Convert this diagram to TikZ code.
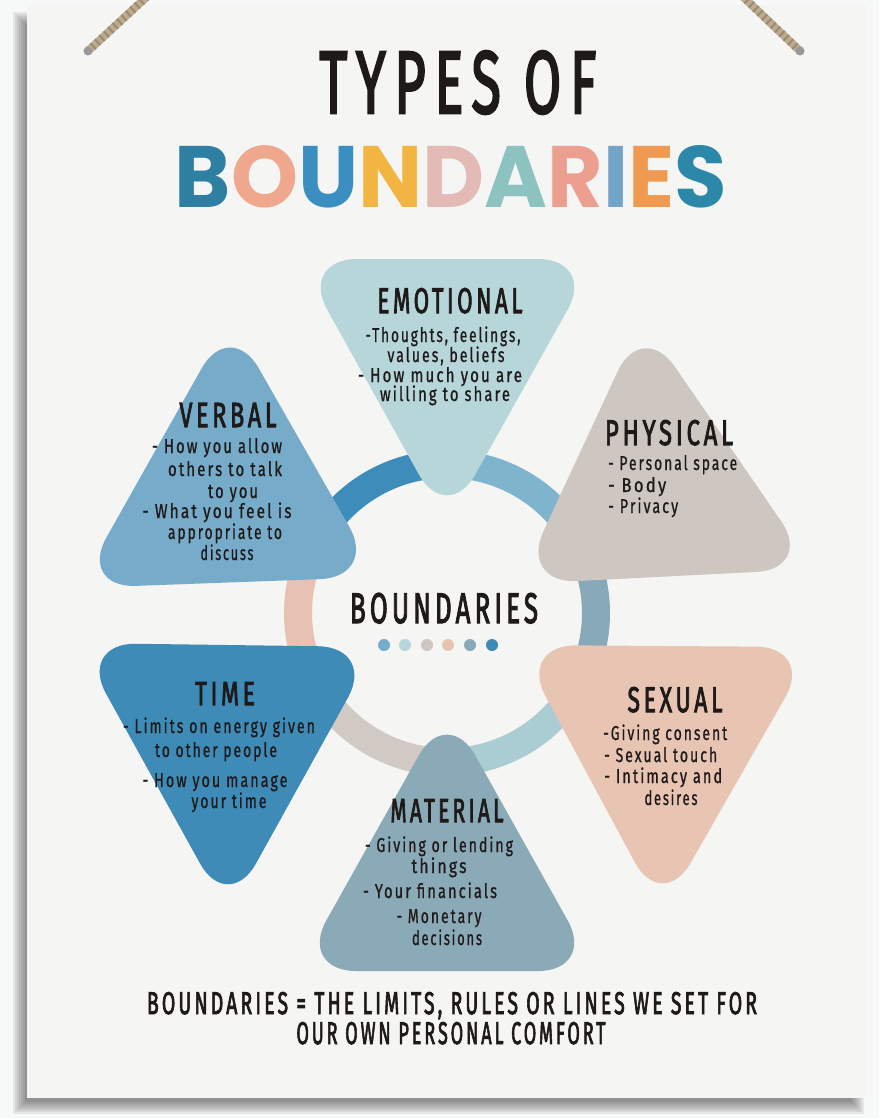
\documentclass[tikz,border=0pt]{standalone}
\usepackage{fontspec}
\usepackage{graphicx}
\newfontfamily\hand[LetterSpace=14,FakeBold=1]{Fira Sans}
\newfontfamily\handh[LetterSpace=16,FakeBold=3]{Fira Sans}
\newfontfamily\pop{Poppins}
\definecolor{bgc}{HTML}{F7F8F8}
\definecolor{board}{HTML}{F5F5F3}
\definecolor{ink}{HTML}{1F1A1A}
\definecolor{emo}{HTML}{B6D6D9}
\definecolor{phy}{HTML}{CEC7C1}
\definecolor{sex}{HTML}{E8C4B3}
\definecolor{mat}{HTML}{8AAAB8}
\definecolor{tim}{HTML}{3E8BB8}
\definecolor{ver}{HTML}{76ABC9}
\definecolor{rA}{HTML}{3D8CBA}
\definecolor{rB}{HTML}{7FB4CD}
\definecolor{rC}{HTML}{88A9BA}
\definecolor{rD}{HTML}{A9CDD3}
\definecolor{rE}{HTML}{D1C9C4}
\definecolor{rF}{HTML}{E7C2B3}
\definecolor{tB}{HTML}{2E7FA2}
\definecolor{tO}{HTML}{EFA78E}
\definecolor{tU}{HTML}{3A8EC0}
\definecolor{tN}{HTML}{F2B541}
\definecolor{tD}{HTML}{E4BAB7}
\definecolor{tA}{HTML}{8CC3C1}
\definecolor{tR}{HTML}{EC9F8E}
\definecolor{tI}{HTML}{72A3C8}
\definecolor{tE}{HTML}{EF9A50}
\definecolor{tS}{HTML}{2B88A8}
\definecolor{rope}{HTML}{BCAB8F}
\definecolor{ropedk}{HTML}{9A8A70}
\newcommand\fitw[2]{\resizebox{#1pt}{\height}{#2}}
\newcommand\fitwh[3]{\resizebox{#1pt}{#2pt}{#3}}
\begin{document}
\begin{tikzpicture}[x=1pt,y=-1pt,
  bt/.style={anchor=base, inner sep=0pt, text=ink, font=\hand\fontsize{20}{20}\selectfont},
  btl/.style={bt, anchor=base west},
  hd/.style={anchor=base, inner sep=0pt, text=ink, font=\handh},
  tri/.style={rounded corners=58pt},
  ringseg/.style={line width=28pt},
  ropeline/.style={line width=8pt, color=rope, line cap=round},
  ropetwist/.style={line width=8pt, color=ropedk, dash pattern=on 2pt off 4pt},
  dot/.style={circle, inner sep=0pt, minimum size=12pt}]
\useasboundingbox (0,0) rectangle (879,1118);
\clip (0,0) rectangle (879,1118);
% background, shadow, board
\fill[bgc] (0,0) rectangle (879,1118);
\foreach \k in {0,...,6} \fill[black, opacity=0.07] (13+\k*2, 12+\k*2) rectangle (864-\k*2, 1114-\k*2);
\fill[board] (27,5) rectangle (867,1098);
% ropes
\draw[ropeline] (88,51) -- (152,-8);
\draw[ropetwist] (88,51) -- (152,-8);
\fill[gray!80] (88,51) circle (4.5);
\draw[ropeline] (800,51) -- (738,-8);
\draw[ropetwist] (800,51) -- (738,-8);
\fill[gray!80] (800,51) circle (4.5);
% titles
\node[hd] (title1) at (458,113) {\fitwh{277}{62}{TYPES OF}};
\node[anchor=base, inner sep=0pt] (title2) at (451,207) {\fitwh{552}{62}{\pop\bfseries\textcolor{tB}{B}\textcolor{tO}{O}\textcolor{tU}{U}\textcolor{tN}{N}\textcolor{tD}{D}\textcolor{tA}{A}\textcolor{tR}{R}\textcolor{tI}{I}\textcolor{tE}{E}\textcolor{tS}{S}}};
% ring
\coordinate (ctr) at (447,613);
\draw[ringseg, rA] (ctr) ++(210:149) arc[start angle=210, end angle=270, radius=149];
\draw[ringseg, rB] (ctr) ++(270:149) arc[start angle=270, end angle=330, radius=149];
\draw[ringseg, rC] (ctr) ++(-30:149) arc[start angle=-30, end angle=30, radius=149];
\draw[ringseg, rD] (ctr) ++(30:149) arc[start angle=30, end angle=90, radius=149];
\draw[ringseg, rE] (ctr) ++(90:149) arc[start angle=90, end angle=150, radius=149];
\draw[ringseg, rF] (ctr) ++(150:149) arc[start angle=150, end angle=210, radius=149];
% triangles
\fill[emo, tri] (299,259) -- (596,259) -- (447,525) -- cycle;
\fill[phy, tri] (642,319) -- (814,569) -- (519,584) -- cycle;
\fill[sex, tri] (518,645) -- (814,647) -- (662,913) -- cycle;
\fill[mat, tri] (447,705) -- (596,971) -- (298,971) -- cycle;
\fill[tim, tri] (78,643) -- (376,647) -- (228,914) -- cycle;
\fill[ver, tri] (230,318) -- (378,577) -- (78,588) -- cycle;
% center
\node[hd] (center) at (444,623) {\fitwh{188}{30}{BOUNDARIES}};
\node[dot, fill=ver] (d1) at (384,645) {};
\node[dot, fill=emo] (d2) at (405,645) {};
\node[dot, fill=phy] (d3) at (427,645) {};
\node[dot, fill=sex] (d4) at (448,645) {};
\node[dot, fill=mat] (d5) at (470,645) {};
\node[dot, fill=tim] (d6) at (492,645) {};
% emotional
\node[hd] (emoT) at (450,313) {\fitwh{145}{25}{EMOTIONAL}};
\node[bt] (emo1) at (443,342) {\fitw{155}{-Thoughts, feelings,}};
\node[bt] (emo2) at (446,362) {\fitw{117}{values, beliefs}};
\node[bt] (emo3) at (440,382) {\fitw{164}{- How much you are}};
\node[bt] (emo4) at (445,401) {\fitw{130}{willing to share}};
% verbal
\node[hd] (verT) at (228,427) {\fitwh{97}{24}{VERBAL}};
\node[bt] (ver1) at (217,453) {\fitw{130}{- How you allow}};
\node[bt] (ver2) at (225,476) {\fitw{114}{others to talk}};
\node[bt] (ver3) at (233,498) {\fitw{50}{to you}};
\node[bt] (ver4) at (217,518) {\fitw{149}{- What you feel is}};
\node[bt] (ver5) at (225,539) {\fitw{114}{appropriate to}};
\node[bt] (ver6) at (227,560) {\fitw{53}{discuss}};
% physical
\node[hd] (phyT) at (669,445) {\fitwh{128}{25}{PHYSICAL}};
\node[btl] (phy1) at (608,470) {\fitw{129}{- Personal space}};
\node[btl] (phy2) at (608,492) {\fitw{58}{- Body}};
\node[btl] (phy3) at (608,513) {\fitw{70}{- Privacy}};
% time
\node[hd] (timT) at (225,705) {\fitwh{60}{23}{TIME}};
\node[bt] (tim1) at (219,733) {\fitw{192}{- Limits on energy given}};
\node[bt] (tim2) at (216,757) {\fitw{122}{to other people}};
\node[bt] (tim3) at (215,787) {\fitw{145}{- How you manage}};
\node[bt] (tim4) at (229,808) {\fitw{75}{your time}};
% sexual
\node[hd] (sexT) at (675,712) {\fitwh{95}{25}{SEXUAL}};
\node[btl] (sex1) at (603,740) {\fitw{124}{-Giving consent}};
\node[btl] (sex2) at (604,762) {\fitw{113}{- Sexual touch}};
\node[btl] (sex3) at (604,783) {\fitw{118}{- Intimacy and}};
\node[bt] (sex4) at (671,805) {\fitw{53}{desires}};
% material
\node[hd] (matT) at (447,822) {\fitwh{113}{23}{MATERIAL}};
\node[bt] (mat1) at (439,852) {\fitw{148}{- Giving or lending}};
\node[bt] (mat2) at (439,873) {\fitw{55}{things}};
\node[bt] (mat3) at (430,898) {\fitw{134}{- Your financials}};
\node[bt] (mat4) at (439,923) {\fitw{85}{- Monetary}};
\node[bt] (mat5) at (447,945) {\fitw{70}{decisions}};
% bottom definition
\node[hd] (def1) at (452,1014) {\fitwh{610}{22}{BOUNDARIES = THE LIMITS, RULES OR LINES WE SET FOR}};
\node[hd] (def2) at (451,1044) {\fitwh{309}{22}{OUR OWN PERSONAL COMFORT}};
\end{tikzpicture}
\end{document}
